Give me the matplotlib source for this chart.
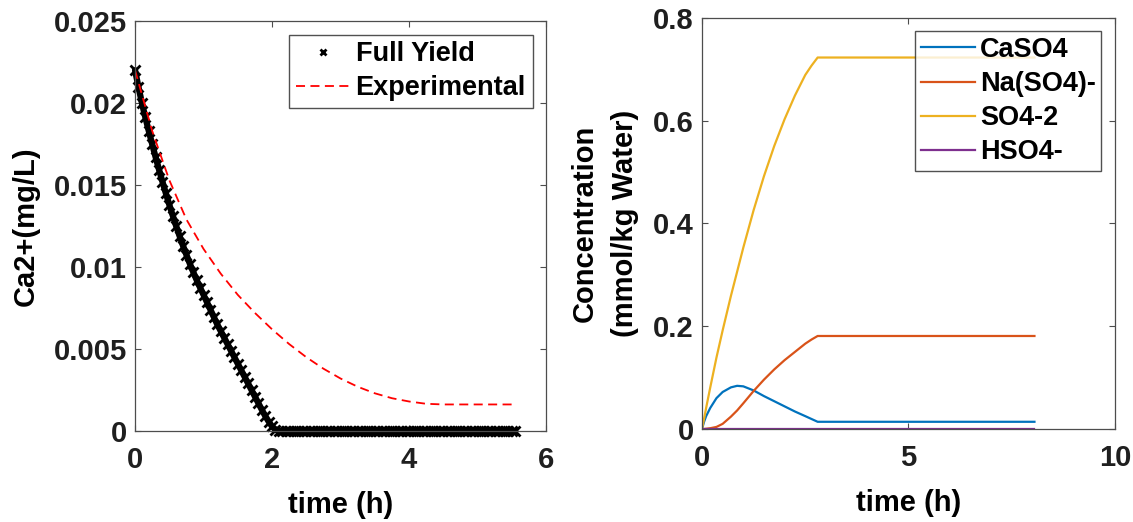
import numpy as np
import matplotlib
matplotlib.use('Agg')
import matplotlib.pyplot as plt

# Left panel: Ca2+ concentration over time
time_left = np.arange(0, 5.5751, 0.05)
full_yield = [
    0.02200, 0.02098, 0.02000, 0.01913, 0.01830, 0.01749, 0.01670, 0.01594,
    0.01520, 0.01449, 0.01380, 0.01314, 0.01250, 0.01189, 0.01130, 0.01074,
    0.01020, 0.00969, 0.00920, 0.00874, 0.00830, 0.00785, 0.00740, 0.00695,
    0.00650, 0.00610, 0.00570, 0.00530, 0.00490, 0.00450, 0.00410, 0.00370,
    0.00330, 0.00290, 0.00250, 0.00210, 0.00170, 0.00130, 0.00092, 0.00058,
    0.00028, 0.00008,
] + [0.0] * 70

time_exp = [0.0, 0.25, 0.5, 0.75, 1.0, 1.25, 1.5, 1.75, 2.0, 2.25, 2.5,
            2.75, 3.0, 3.25, 3.5, 3.75, 4.0, 4.25, 4.5, 5.0, 5.55]
experimental = [0.0220, 0.0183, 0.0153, 0.0129, 0.0111, 0.0096, 0.0083,
                0.0072, 0.0062, 0.0053, 0.0045, 0.0038, 0.0032, 0.0027,
                0.0023, 0.0020, 0.0018, 0.00166, 0.00162, 0.00162, 0.00162]

# Right panel: sulfate species
time_right = [0.0, 0.05, 0.1, 0.2, 0.35, 0.5, 0.7, 0.85, 1.0, 1.25, 1.5,
              1.75, 2.0, 2.25, 2.5, 2.65, 2.8, 8.05]
caso4 = [0.0, 0.014, 0.025, 0.041, 0.060, 0.072, 0.081, 0.084, 0.083,
         0.075, 0.064, 0.054, 0.044, 0.034, 0.025, 0.0195, 0.014, 0.014]
naso4 = [0.0, 0.0, 0.0005, 0.0015, 0.004, 0.010, 0.024, 0.036, 0.050,
         0.074, 0.096, 0.116, 0.134, 0.150, 0.166, 0.174, 0.181, 0.181]
so4 = [0.0, 0.020, 0.041, 0.081, 0.139, 0.192, 0.259, 0.306, 0.353,
       0.426, 0.492, 0.551, 0.603, 0.649, 0.689, 0.707, 0.723, 0.723]
hso4 = [0.0] * len(time_right)

species = ['CaSO4', 'Na(SO4)-', 'SO4-2', 'HSO4-']
species_colors = ['#0072BD', '#D95319', '#EDB120', '#7E2F8E']

plt.rcParams['font.family'] = ['Liberation Sans', 'DejaVu Sans']
plt.rcParams['font.weight'] = 'bold'
plt.rcParams['axes.labelweight'] = 'bold'

fig = plt.figure(figsize=(11.33, 5.22), dpi=100)
ax1 = fig.add_axes([0.1192, 0.1743, 0.3628, 0.7854])
ax2 = fig.add_axes([0.6196, 0.1782, 0.3645, 0.7874])

# dense marker band: thick line underneath, x markers on top
ax1.plot(time_left, full_yield, color='k', lw=4.5, solid_capstyle='round',
         clip_on=False, label='_nolegend_')
ax1.plot(time_left, full_yield, linestyle='none', marker='x', color='k',
         markersize=7, markeredgewidth=2.0, clip_on=False, label='Full Yield')
ax1.plot(time_exp, experimental, color='r', linestyle='--', lw=1.3,
         dashes=(5, 3), label='Experimental')
ax1.set_xlim(0, 6)
ax1.set_ylim(0, 0.025)
ax1.set_xticks([0, 2, 4, 6])
ax1.set_yticks([0, 0.005, 0.01, 0.015, 0.02, 0.025])
ax1.set_yticklabels(['0', '0.005', '0.01', '0.015', '0.02', '0.025'])
ax1.set_xlabel('time (h)', fontsize=21, labelpad=12)
ax1.set_ylabel('Ca2+(mg/L)', fontsize=21, labelpad=10)

for name, vals, col in zip(species, [caso4, naso4, so4, hso4], species_colors):
    ax2.plot(time_right, vals, color=col, lw=1.6, label=name)
ax2.set_xlim(0, 10)
ax2.set_ylim(0, 0.8)
ax2.set_xticks([0, 5, 10])
ax2.set_yticks([0, 0.2, 0.4, 0.6, 0.8])
ax2.set_yticklabels(['0', '0.2', '0.4', '0.6', '0.8'])
ax2.set_xlabel('time (h)', fontsize=21, labelpad=12)
ax2.set_ylabel('Concentration\n(mmol/kg Water)', fontsize=21, labelpad=10,
               linespacing=1.55)

for ax in (ax1, ax2):
    for spine in ax.spines.values():
        spine.set_color('0.3')
        spine.set_linewidth(0.9)
    ax.tick_params(direction='in', top=True, right=True, length=4,
                   width=0.8, color='0.3', labelsize=21, labelcolor='0.12')
    ax.tick_params(axis='x', pad=11)
    ax.tick_params(axis='y', pad=6)

leg1 = ax1.legend(loc='upper right', fontsize=19.5, frameon=True,
                  fancybox=False, borderaxespad=0.5, handlelength=2.0,
                  handletextpad=0.2, labelspacing=0.3, borderpad=0.25,
                  numpoints=1, markerscale=0.6)
leg2 = ax2.legend(loc='upper right', fontsize=19.5, frameon=True,
                  fancybox=False, borderaxespad=0.5, handlelength=2.0,
                  handletextpad=0.2, labelspacing=0.3, borderpad=0.2)
for leg in (leg1, leg2):
    leg.get_frame().set_edgecolor('0.15')
    leg.get_frame().set_linewidth(1.0)

fig.savefig('out.png', dpi=100, facecolor='white')
